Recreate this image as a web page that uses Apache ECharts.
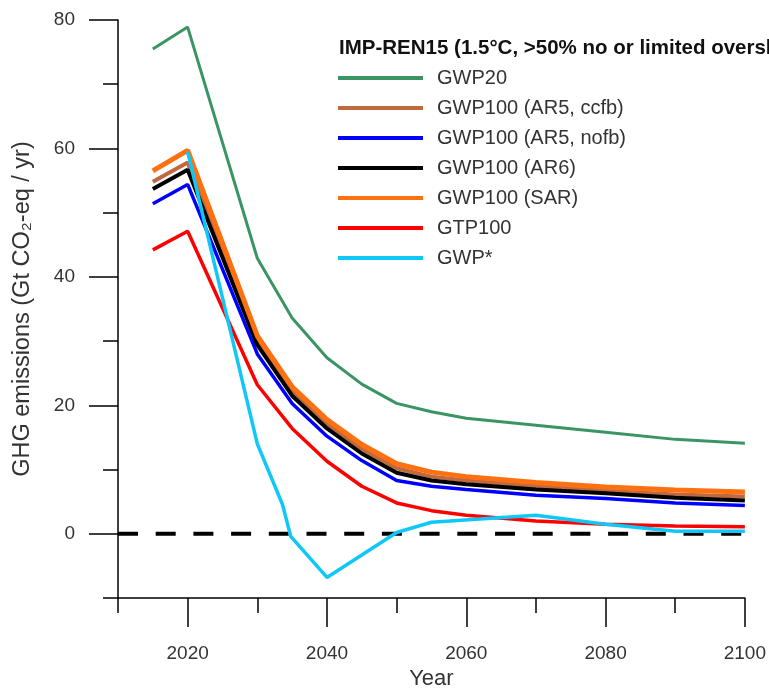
<!DOCTYPE html>
<html>
<head>
<meta charset="utf-8">
<script src="https://cdn.jsdelivr.net/npm/echarts@6/dist/echarts.min.js"></script>
<style>
html,body{margin:0;padding:0;background:#fff;}
#chart{width:769px;height:695px;}
</style>
</head>
<body>
<div id="chart"></div>
<script>
// ---- data ----
const years = [2015, 2020, 2030, 2035, 2040, 2045, 2050, 2055, 2060, 2070, 2080, 2090, 2100];
const gwp20     = [75.5, 78.9, 42.9, 33.6, 27.4, 23.3, 20.3, 19.0, 18.0, 16.9, 15.8, 14.7, 14.1];
const gwp100ccfb = [54.8, 57.8, 30.0, 22.2, 17.1, 13.2, 10.2, 8.9, 8.3, 7.4, 6.7, 6.1, 5.8];
const gwp100nofb = [51.4, 54.4, 28.0, 20.3, 15.2, 11.4, 8.3, 7.4, 6.9, 6.0, 5.5, 4.8, 4.4];
const gwp100ar6  = [53.7, 56.7, 29.4, 21.5, 16.4, 12.5, 9.5, 8.3, 7.7, 6.9, 6.3, 5.6, 5.2];
const gwp100sar  = [56.5, 59.7, 30.8, 22.9, 17.8, 13.9, 10.9, 9.6, 8.9, 8.0, 7.3, 6.8, 6.5];
const gtp100     = [44.2, 47.1, 23.2, 16.4, 11.3, 7.4, 4.8, 3.6, 2.9, 2.0, 1.5, 1.2, 1.1];
const gwpStarYears  = [2020, 2030, 2033.6, 2034.8, 2040, 2050, 2055, 2070, 2080, 2090, 2100];
const gwpStarValues = [59.5, 14.0, 4.6, -0.4, -6.8, 0.2, 1.8, 2.9, 1.5, 0.4, 0.4];
const zeroYears  = [2010, 2100];
const zeroValues = [0, 0];

const xMajorTicks = [2020, 2040, 2060, 2080, 2100];
const xMinorTicks = [2010, 2030, 2050, 2070, 2090];
const yMajorTicks = [0, 20, 40, 60, 80];
const yMinorTicks = [-10, 10, 30, 50, 70];

const legendTitle = 'IMP-REN15 (1.5°C, >50% no or limited overshoot)';
const names = ['GWP20', 'GWP100 (AR5, ccfb)', 'GWP100 (AR5, nofb)', 'GWP100 (AR6)', 'GWP100 (SAR)', 'GTP100', 'GWP*'];
const colors = ['#3a9463', '#c0693f', '#0000ff', '#000000', '#ff7010', '#ff0000', '#10c8f8'];
const widths = [3, 4, 3.5, 4, 5, 3.5, 3.5];

// ---- build ----
const zip = (xs, ys) => xs.map((x, i) => [x, ys[i]]);
const mainValues = [gwp20, gwp100ccfb, gwp100nofb, gwp100ar6, gwp100sar, gtp100];

const FONT = 'Liberation Sans, Arial, sans-serif';
const series = [];
series.push({
  name: 'zero', type: 'line', data: zip(zeroYears, zeroValues), showSymbol: false, silent: true,
  lineStyle: { color: '#000', width: 4, type: [20, 17.7] }, z: 1
});
mainValues.forEach((vals, i) => {
  series.push({
    name: names[i], type: 'line', data: zip(years, vals), showSymbol: false,
    lineStyle: { color: colors[i], width: widths[i] }, itemStyle: { color: colors[i] }, z: 2 + i
  });
});
series.push({
  name: names[6], type: 'line', data: zip(gwpStarYears, gwpStarValues), showSymbol: false,
  lineStyle: { color: colors[6], width: widths[6] }, itemStyle: { color: colors[6] }, z: 9
});

const chart = echarts.init(document.getElementById('chart'), null, { renderer: 'canvas' });
chart.setOption({
  animation: false,
  backgroundColor: '#fff',
  textStyle: { fontFamily: FONT },
  title: {
    text: legendTitle, left: 339, top: 38, padding: 0,
    textStyle: { fontFamily: FONT, fontSize: 20.5, fontWeight: 'bold', color: '#111' }
  },
  legend: {
    data: names, orient: 'vertical', left: 338, top: 68, padding: 0,
    icon: 'rect', itemWidth: 85, itemHeight: 4, itemGap: 10,
    textStyle: { fontFamily: FONT, fontSize: 20, lineHeight: 20, color: '#333', padding: [0, 0, 0, 9] }
  },
  grid: { left: 118, right: 24, top: 20, bottom: 91 },
  xAxis: [{
    type: 'value', min: 2010, max: 2100, position: 'bottom',
    axisLine: { show: true, onZero: false, lineStyle: { color: '#000', width: 1.5 } },
    axisTick: { show: true, length: 29, customValues: xMajorTicks, lineStyle: { color: '#000', width: 1.5 } },
    axisLabel: { customValues: xMajorTicks, margin: 46, fontSize: 19, color: '#333', fontFamily: FONT,
      formatter: v => String(v) },
    splitLine: { show: false },
    name: 'Year', nameLocation: 'middle', nameGap: 70,
    nameTextStyle: { fontSize: 22, color: '#333', fontFamily: FONT }
  }, {
    type: 'value', min: 2010, max: 2100, position: 'bottom',
    axisLine: { show: false, onZero: false },
    axisTick: { show: true, length: 15, customValues: xMinorTicks, lineStyle: { color: '#000', width: 1.5 } },
    axisLabel: { show: false },
    splitLine: { show: false }
  }],
  yAxis: [{
    type: 'value', min: -10, max: 80, position: 'left',
    axisLine: { show: true, onZero: false, lineStyle: { color: '#000', width: 1.5 } },
    axisTick: { show: true, length: 29, customValues: yMajorTicks, lineStyle: { color: '#000', width: 1.5 } },
    axisLabel: { customValues: yMajorTicks, margin: 43, fontSize: 19, color: '#333', fontFamily: FONT,
      formatter: v => String(v) },
    splitLine: { show: false },
    name: 'GHG emissions (Gt CO₂-eq / yr)', nameLocation: 'middle', nameGap: 83, nameRotate: 90,
    nameTextStyle: { fontSize: 23.5, color: '#333', fontFamily: FONT }
  }, {
    type: 'value', min: -10, max: 80, position: 'left',
    axisLine: { show: false, onZero: false },
    axisTick: { show: true, length: 15, customValues: yMinorTicks, lineStyle: { color: '#000', width: 1.5 } },
    axisLabel: { show: false },
    splitLine: { show: false }
  }],
  series: series
});
</script>
</body>
</html>
